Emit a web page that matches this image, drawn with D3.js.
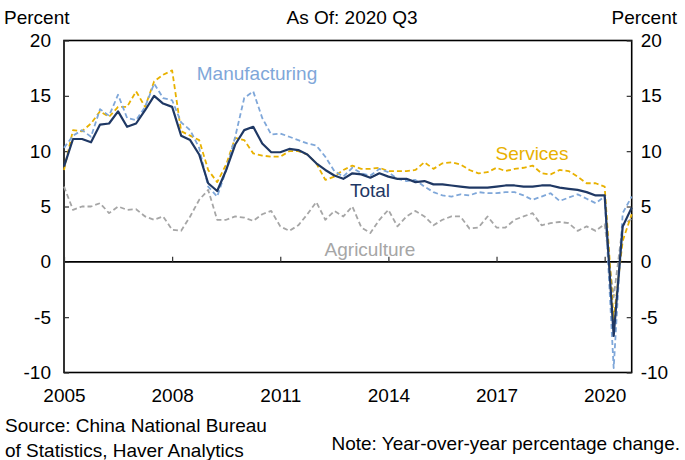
<!DOCTYPE html>
<html>
<head>
<meta charset="utf-8">
<script src="https://cdn.jsdelivr.net/npm/d3@7"></script>
<style>
  html, body { margin: 0; padding: 0; background: #fff; }
  svg { display: block; font-family: "Liberation Sans", Arial, sans-serif; }
</style>
</head>
<body>
<svg id="chart" width="685" height="460"></svg>
<script>
// ---- Data (quarterly YoY %, 2004Q4 .. 2020Q3) ----
const startYear = 2004, startQuarter = 4, nQuarters = 64;
const quarters = [];
for (let i = 0; i < nQuarters; i++) {
  const q = (startQuarter - 1 + i) % 4 + 1;
  const yr = startYear + Math.floor((startQuarter - 1 + i) / 4);
  quarters.push(yr + "Q" + q);
}
const total = [
  8.6, 11.1, 11.1, 10.8, 12.4, 12.5, 13.6, 12.2, 12.5, 13.7,
  15.0, 14.3, 14.0, 11.4, 11.0, 9.7, 7.1, 6.4, 8.3, 10.6,
  11.9, 12.2, 10.7, 9.9, 9.9, 10.2, 10.1, 9.7, 8.9, 8.3,
  7.8, 7.5, 8.0, 7.9, 7.6, 8.0, 7.7, 7.5, 7.5, 7.2,
  7.3, 7.0, 7.0, 6.9, 6.8, 6.7, 6.7, 6.7, 6.8, 6.9,
  6.9, 6.8, 6.8, 6.9, 6.9, 6.7, 6.6, 6.5, 6.3, 6.0,
  6.0, -6.7, 3.2, 4.9
];
const manufacturing = [
  10.3, 11.4, 11.9, 11.3, 13.8, 13.2, 15.1, 13.0, 12.8, 14.0,
  16.1, 14.8, 14.6, 12.6, 11.9, 10.3, 6.8, 5.9, 8.3, 11.3,
  14.8, 15.4, 13.0, 11.5, 11.6, 11.3, 11.0, 10.7, 10.5, 9.5,
  8.2, 7.7, 8.5, 8.0, 7.8, 8.4, 8.1, 7.5, 7.3, 7.4,
  6.8, 6.3, 6.0, 5.9, 6.1, 6.0, 6.3, 6.2, 6.2, 6.3,
  6.3, 6.0, 5.6, 5.9, 6.2, 5.5, 5.8, 6.1, 5.7, 5.3,
  5.9, -9.6, 4.4, 5.9
];
const services = [
  8.3, 11.9, 11.8, 12.5, 13.6, 13.1, 14.0, 14.0, 15.4, 14.0,
  16.3, 16.9, 17.3, 11.8, 11.4, 11.0, 8.3, 7.2, 8.8, 11.2,
  11.0, 9.8, 9.6, 9.5, 9.5, 10.0, 10.0, 9.7, 8.9, 7.4,
  7.7, 8.3, 8.7, 8.4, 8.4, 8.5, 8.2, 8.2, 8.2, 8.3,
  9.0, 8.4, 8.9, 9.0, 8.8, 8.3, 8.0, 8.1, 8.5, 8.2,
  8.4, 8.5, 8.7, 8.0, 7.9, 8.3, 8.2, 7.7, 7.1, 7.1,
  6.8, -5.2, 1.9, 4.3
];
const agriculture = [
  6.8, 4.7, 5.0, 5.0, 5.3, 4.4, 5.0, 4.7, 4.75, 4.1,
  3.8, 4.1, 2.9, 2.8, 4.1, 5.6, 6.5, 3.8, 3.8, 4.1,
  4.0, 3.7, 4.3, 4.6, 3.2, 2.8, 3.3, 4.3, 5.4, 3.8,
  4.6, 4.1, 5.0, 3.1, 2.6, 3.8, 4.7, 3.2, 4.1, 4.6,
  4.1, 3.3, 3.8, 4.1, 4.1, 3.0, 3.1, 4.1, 3.1, 3.1,
  3.8, 4.1, 4.4, 3.3, 3.5, 3.6, 3.5, 2.8, 3.2, 2.8,
  3.4, -3.2, 3.3, 3.9
];
const xTickYears = [2005, 2008, 2011, 2014, 2017, 2020];
const yTicks = [-10, -5, 0, 5, 10, 15, 20];
const seriesNames = ["Agriculture", "Services", "Manufacturing", "Total"];
const seriesColors = ["#a6a6a6", "#e8b100", "#7fa7d9", "#1f3864"];

// ---- Layout ----
const L = 64, R = 631.7, T = 40.5, B = 372.5;
const FONT = 19;
const svg = d3.select("#chart");
const fmt = d => String(d);   // plain hyphen minus, as in the reference

// quarter label -> fractional year at quarter end
const qTime = s => +s.slice(0, 4) + (+s.slice(5)) * 0.25;

const x = d3.scaleLinear().domain([2005, 2020.75]).range([L, R]);
const y = d3.scaleLinear().domain([-10, 20]).range([B, T]);

// frame
svg.append("rect").attr("x", L).attr("y", T).attr("width", R - L).attr("height", B - T)
  .attr("fill", "none").attr("stroke", "#000").attr("stroke-width", 1.6);

// zero line
svg.append("line").attr("x1", L).attr("x2", R).attr("y1", y(0)).attr("y2", y(0))
  .attr("stroke", "#000").attr("stroke-width", 1.6);

// left axis
const gl = svg.append("g").attr("transform", `translate(${L},0)`)
  .call(d3.axisLeft(y).tickValues(yTicks).tickSize(-5).tickPadding(13).tickFormat(fmt));
// right axis
const gr = svg.append("g").attr("transform", `translate(${R},0)`)
  .call(d3.axisRight(y).tickValues(yTicks).tickSize(-5).tickPadding(9).tickFormat(fmt));
// x ticks on zero line
const gz = svg.append("g").attr("transform", `translate(0,${y(0)})`)
  .call(d3.axisBottom(x).tickValues(xTickYears).tickSize(-5).tickFormat(""));
// x labels below frame
const gb = svg.append("g").attr("transform", `translate(0,${B})`)
  .call(d3.axisBottom(x).tickValues(xTickYears).tickSize(0).tickPadding(16).tickFormat(fmt));

[gl, gr, gz, gb].forEach(g => {
  g.select(".domain").remove();
  g.selectAll(".tick line").attr("stroke", "#333").attr("stroke-width", 1.2);
  g.selectAll(".tick text").attr("font-size", FONT).attr("fill", "#000")
    .attr("font-family", '"Liberation Sans", Arial, sans-serif');
});
gb.selectAll(".tick line").remove();

// lines
const seriesData = [agriculture, services, manufacturing, total];
const line = d3.line()
  .x((d, i) => x(qTime(quarters[i])))
  .y(d => y(d));
seriesData.forEach((vals, k) => {
  const isTotal = seriesNames[k] === "Total";
  svg.append("path").datum(vals)
    .attr("d", line)
    .attr("fill", "none")
    .attr("stroke", seriesColors[k])
    .attr("stroke-width", isTotal ? 2.2 : 1.8)
    .attr("stroke-dasharray", isTotal ? null : "5,3")
    .attr("stroke-linejoin", "round");
});

// series labels
const labels = [
  { name: "Manufacturing", x: 257, y: 80 },
  { name: "Services", x: 532, y: 160 },
  { name: "Total", x: 370, y: 197 },
  { name: "Agriculture", x: 370, y: 256 }
];
labels.forEach(l => {
  const k = seriesNames.indexOf(l.name);
  svg.append("text").attr("x", l.x).attr("y", l.y)
    .attr("text-anchor", "middle").attr("font-size", FONT)
    .attr("fill", seriesColors[k]).text(l.name);
});

// header texts
svg.append("text").attr("x", 4).attr("y", 24).attr("font-size", FONT).text("Percent");
svg.append("text").attr("x", 677).attr("y", 24).attr("font-size", FONT)
  .attr("text-anchor", "end").text("Percent");
svg.append("text").attr("x", 352).attr("y", 24).attr("font-size", FONT)
  .attr("text-anchor", "middle").text("As Of: 2020 Q3");

// footer texts
svg.append("text").attr("x", 5).attr("y", 432).attr("font-size", FONT)
  .text("Source: China National Bureau");
svg.append("text").attr("x", 5).attr("y", 457).attr("font-size", FONT)
  .text("of Statistics, Haver Analytics");
svg.append("text").attr("x", 680).attr("y", 450).attr("font-size", FONT)
  .attr("text-anchor", "end").text("Note: Year-over-year percentage change.");
</script>
</body>
</html>
